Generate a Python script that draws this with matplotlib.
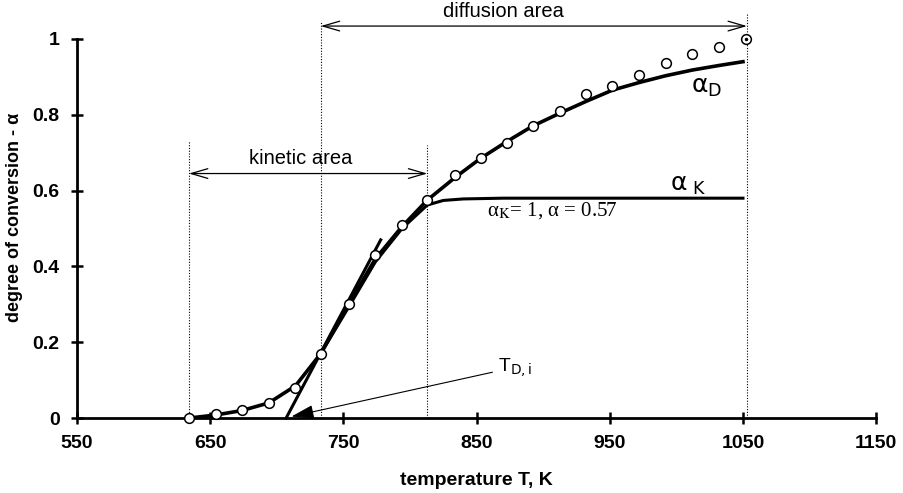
import numpy as np
import matplotlib
matplotlib.use("Agg")
import matplotlib.pyplot as plt

plt.rcParams["font.family"] = ["Liberation Sans", "DejaVu Sans"]

# measured points (open circles)
temp_pts = [634, 654, 674, 694, 714, 733, 754, 774, 794, 813, 834, 853,
            873, 892, 913, 932, 952, 972, 992, 1012, 1032, 1052]
alpha_pts = [0.0, 0.01, 0.02, 0.04, 0.08, 0.17, 0.30, 0.43, 0.51, 0.575, 0.64,
             0.685, 0.725, 0.77, 0.81, 0.855, 0.875, 0.905, 0.937, 0.96, 0.98, 1.0]

# diffusion model curve alpha_D
temp_d = [634, 654, 674, 694, 714, 733, 754, 774, 794, 813, 834, 853,
          873, 892, 913, 932, 952, 972, 992, 1012, 1032, 1050]
alpha_d = [0.0, 0.008, 0.02, 0.04, 0.085, 0.17, 0.30, 0.42, 0.505, 0.575, 0.635,
           0.685, 0.73, 0.77, 0.805, 0.835, 0.865, 0.885, 0.903, 0.918, 0.93, 0.94]

# kinetic model curve alpha_K
temp_k = [733, 754, 774, 794, 813, 825, 840, 870, 1050]
alpha_k = [0.17, 0.293, 0.412, 0.50, 0.562, 0.574, 0.578, 0.58, 0.58]

# tangent giving T_D,i
temp_tan = [707, 778]
alpha_tan = [0.0, 0.47]

# area borders
borders = [634, 733, 813, 1053]
border_top = [0.73, 1.045, 0.72, 1.065]

fig = plt.figure(figsize=(9.04, 4.93), dpi=100)
ax = fig.add_axes([0.0852, 0.152, 0.884, 0.769])

for t, top in zip(borders, border_top):
    ax.plot([t, t], [0, top], color="black", lw=0.8, ls=(0, (1, 1.5)),
            clip_on=False)

ax.plot(temp_tan, alpha_tan, color="black", lw=2.2, clip_on=False)
ax.plot(temp_k, alpha_k, color="black", lw=2.2)
ax.plot(temp_d, alpha_d, color="black", lw=2.6)
ax.plot(temp_pts, alpha_pts, "o", ms=7, mfc="white", mec="black", mew=1.1,
        clip_on=False, zorder=5)
ax.plot(temp_pts[-1], alpha_pts[-1], ".", ms=3, color="black", clip_on=False,
        zorder=6)

# area arrows
arrow = dict(arrowstyle="<->, head_length=1.2, head_width=0.35",
             color="black", lw=0.9, shrinkA=0, shrinkB=0)
ax.annotate("", xy=(634, 0.645), xytext=(813, 0.645), arrowprops=arrow)
ax.annotate("", xy=(733, 1.034), xytext=(1053, 1.034), arrowprops=arrow,
            annotation_clip=False)
ax.text(718, 0.66, "kinetic area", ha="center", va="bottom", fontsize=14.5)
ax.text(870, 1.047, "diffusion area", ha="center", va="bottom", fontsize=14.5)

# T_D,i pointer
ax.annotate(r"T$_{\rm D,i}$", xy=(711, 0.004), xytext=(866, 0.134),
            fontsize=14, va="center", ha="left", math_fontfamily="dejavusans",
            arrowprops=dict(arrowstyle="-|>, head_length=1.0, head_width=0.3",
                            color="black", lw=0.8, shrinkA=2, shrinkB=0))

ax.text(1011, 0.872, r"α$_{\rm D}$", fontsize=18, va="center",
        family="DejaVu Sans", math_fontfamily="dejavusans")
ax.text(995, 0.615, r"α$_{\ \rm K}$", fontsize=18, va="center",
        family="DejaVu Sans", math_fontfamily="dejavusans")
ax.text(858, 0.548, r"α$_{\rm K}$= 1, α = 0.57", fontsize=15,
        va="center", family="Liberation Serif", math_fontfamily="stix")

ax.set_xlim(550, 1150)
ax.set_ylim(0, 1)
ax.set_xticks(np.arange(550, 1151, 100))
ax.set_yticks([0, 0.2, 0.4, 0.6, 0.8, 1])
ax.set_yticklabels(["0", "0.2", "0.4", "0.6", "0.8", "1"])
ax.tick_params(direction="inout", length=9, width=1.8, labelsize=14, pad=8)
for lab in ax.get_xticklabels() + ax.get_yticklabels():
    lab.set_fontweight("bold")

for s in ["top", "right"]:
    ax.spines[s].set_visible(False)
for s in ["left", "bottom"]:
    ax.spines[s].set_linewidth(2)

ax.set_xlabel("temperature T, K", fontsize=14, fontweight="bold", labelpad=14)
ax.set_ylabel("degree of conversion - α", fontsize=13, fontweight="bold")
ax.yaxis.set_label_coords(-0.068, 0.53)

fig.savefig("out.png", dpi=100)
